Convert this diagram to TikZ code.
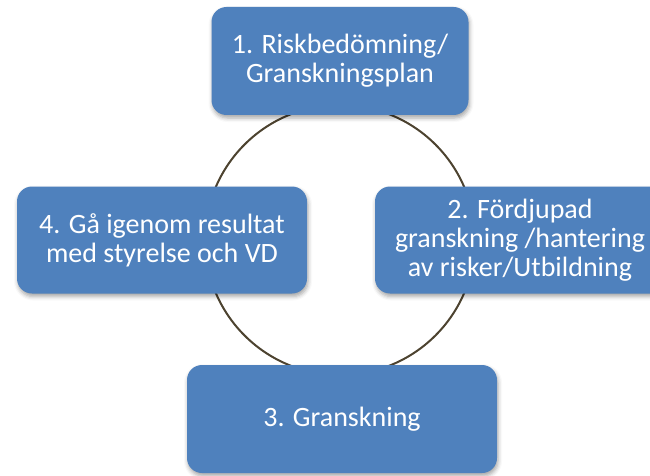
\documentclass[tikz,border=0pt]{standalone}
\usepackage{fontspec}
\setmainfont{Carlito}
\usetikzlibrary{shadows.blur}
\definecolor{boxblue}{HTML}{4F81BD}
\definecolor{ringbrown}{HTML}{4D4330}
\tikzset{
  stepbox/.style={draw=none, fill=boxblue, rounded corners=15pt, text=white, align=center,
    font=\fontsize{28}{29}\selectfont, inner sep=0pt,
    blur shadow={shadow xshift=1pt, shadow yshift=-3pt, shadow blur radius=4pt, shadow opacity=35}},
  ring/.style={draw=ringbrown, line width=2pt}
}
\begin{document}
\begin{tikzpicture}[x=1pt,y=-1pt]
\clip (0,0) rectangle (650,476);
\coordinate (c) at (340,240);
\draw[ring] (c) circle (135pt);
\node[stepbox, minimum width=257pt, minimum height=108pt] (plan) at (340,61) {1. Riskbedömning/\\Granskningsplan};
\node[stepbox, minimum width=290pt, minimum height=107pt] (depth) at (520,240) {2. Fördjupad\\granskning /hantering\\av risker/Utbildning};
\node[stepbox, minimum width=310pt, minimum height=108pt] (review) at (342,419) {3. Granskning};
\node[stepbox, minimum width=290pt, minimum height=107pt] (board) at (162,240) {4. Gå igenom resultat\\med styrelse och VD};
\end{tikzpicture}
\end{document}
